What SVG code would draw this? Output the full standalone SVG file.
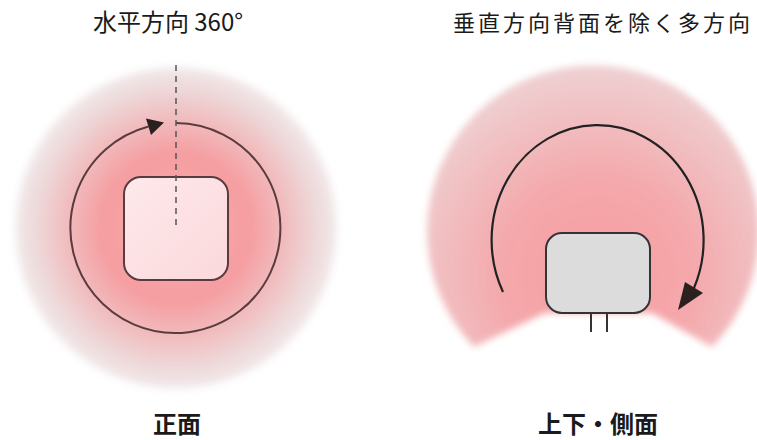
<svg xmlns="http://www.w3.org/2000/svg" width="757" height="440" viewBox="0 0 757 440">
  <style>
    .title { font-family: "Noto Sans CJK JP", "Noto Sans", sans-serif; font-size: 24px; font-weight: 400; fill: #1a1a1a; }
    .label { font-family: "Noto Sans CJK JP", "Noto Sans", sans-serif; font-size: 24px; font-weight: 700; fill: #1a1a1a; }
    .ring { fill: none; stroke: #5a3c3e; stroke-width: 2; }
    .arc { fill: none; stroke: #222; stroke-width: 2.2; }
    .head { fill: #2a2020; }
  </style>
  <defs>
    <radialGradient id="glowL" cx="176" cy="228" r="166" gradientUnits="userSpaceOnUse">
      <stop offset="0" stop-color="#f8a9ac"/>
      <stop offset="0.45" stop-color="#f59ea1"/>
      <stop offset="0.66" stop-color="#f1bcbe"/>
      <stop offset="0.84" stop-color="#eed8d9"/>
      <stop offset="0.95" stop-color="#f1e7e8"/>
      <stop offset="1" stop-color="#ffffff" stop-opacity="0"/>
    </radialGradient>
    <radialGradient id="glowR" cx="597" cy="275" r="210" gradientUnits="userSpaceOnUse">
      <stop offset="0" stop-color="#f79ca0"/>
      <stop offset="0.45" stop-color="#f4a8ab"/>
      <stop offset="1" stop-color="#efd1d3"/>
    </radialGradient>
    <linearGradient id="boxL" x1="0" y1="0" x2="1" y2="1">
      <stop offset="0" stop-color="#fee9eb"/>
      <stop offset="1" stop-color="#fbd8db"/>
    </linearGradient>
    <filter id="soft" x="-10%" y="-10%" width="120%" height="120%">
      <feGaussianBlur stdDeviation="3.5"/>
    </filter>
  </defs>

  <g id="glow-left">
    <circle cx="176" cy="228" r="166" fill="url(#glowL)" filter="url(#soft)"/>
  </g>
  <g id="glow-right">
    <path d="M474,347 A166,166 0 1 1 712,347 L652,313 L545,313 Z" fill="url(#glowR)" filter="url(#soft)"/>
  </g>

  <g id="connectors">
    <path class="ring" d="M176,123 A105,105 0 1 1 148.5,126.5"/>
    <polygon class="head" points="164,122.5 146,118.5 151,135"/>
    <path class="arc" d="M503,292 A106,115 0 1 1 694,288"/>
    <polygon class="head" points="678,310 685,282 703,293"/>
  </g>

  <g id="device-front">
    <rect x="124" y="177" width="104" height="103" rx="17" fill="url(#boxL)" stroke="#5a3c3e" stroke-width="2"/>
    <line x1="176" y1="65" x2="176" y2="227" stroke="#555" stroke-width="1.5" stroke-dasharray="6 5"/>
  </g>

  <g id="device-side">
    <line x1="591" y1="313" x2="591" y2="332" stroke="#333" stroke-width="2"/>
    <line x1="607" y1="313" x2="607" y2="332" stroke="#333" stroke-width="2"/>
    <rect x="546" y="233" width="104" height="80" rx="16" fill="#dcdcdc" stroke="#333" stroke-width="2"/>
  </g>

  <g id="labels">
    <text class="title" x="168" y="31" text-anchor="middle">水平方向 360°</text>
    <text class="title" x="453" y="31" letter-spacing="3" style="font-size:22px">垂直方向背面を除く多方向</text>
    <text class="label" x="177" y="433" text-anchor="middle">正面</text>
    <text class="label" x="598" y="433" text-anchor="middle">上下・側面</text>
  </g>
</svg>
